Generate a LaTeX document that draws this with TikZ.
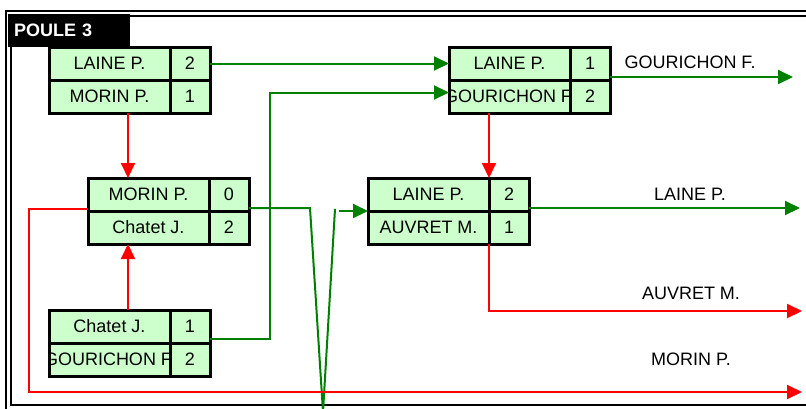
\documentclass[tikz,border=0pt]{standalone}
\usepackage{fontspec}
\setmainfont{Liberation Sans}
\usepackage{tikz}
\usetikzlibrary{arrows.meta,positioning}
\definecolor{cellgreen}{HTML}{CCFFCC}
\definecolor{wingreen}{RGB}{0,128,0}

\begin{document}
\begin{tikzpicture}[x=1pt, y=-1pt, cell/.style={shape=rectangle, draw, fill=cellgreen, line width=3pt, outer sep=0, inner sep=0, minimum height=33pt, font=\fontsize{18}{21}\selectfont}, player/.style={cell, minimum width=121pt}, score/.style={cell, minimum width=40pt}, cutname/.style={player, path picture={\node[font=\fontsize{18}{21}\selectfont, inner sep=0, anchor=center] at (path picture bounding box.center) {#1};}}, result/.style={font=\fontsize{18}{21}\selectfont}, win/.style={draw=wingreen, line width=2pt}, lose/.style={draw=red, line width=2pt}, >={Triangle[length=15pt,width=14pt]}]
				\useasboundingbox (0,0) rectangle (806,408);
				\draw[line width=2pt] (6,11) rectangle (812,412);
				\draw[line width=2pt] (11,16) rectangle (807,405);
				\node[fill=black, text=white, font=\fontsize{18}{21}\selectfont\bfseries, anchor=north west, minimum height=33pt, inner sep=6pt, text width=110pt] (poule) at (8,14) {POULE 3};
				\node[player] (m1j1) at (109.5,63.5) {LAINE P.};
				\node[score, right=0pt of m1j1] (m1s1) {2};
				\node[player, below=0pt of m1j1] (m1j2) {MORIN P.};
				\node[score, right=0pt of m1j2] (m1s2) {1};
				\node[player] (m2j1) at (109.5,326.5) {Chatet J.};
				\node[score, right=0pt of m2j1] (m2s1) {1};
				\node[cutname={GOURICHON F.}, below=0pt of m2j1] (m2j2) {};
				\node[score, right=0pt of m2j2] (m2s2) {2};
				\node[player] (m3j1) at (148.5,194.5) {MORIN P.};
				\node[score, right=0pt of m3j1] (m3s1) {0};
				\node[player, below=0pt of m3j1] (m3j2) {Chatet J.};
				\node[score, right=0pt of m3j2] (m3s2) {2};
				\node[player] (m4j1) at (509.5,63.5) {LAINE P.};
				\node[score, right=0pt of m4j1] (m4s1) {1};
				\node[cutname={GOURICHON F.}, below=0pt of m4j1] (m4j2) {};
				\node[score, right=0pt of m4j2] (m4s2) {2};
				\node[player] (m5j1) at (428.5,194.5) {LAINE P.};
				\node[score, right=0pt of m5j1] (m5s1) {2};
				\node[player, below=0pt of m5j1] (m5j2) {AUVRET M.};
				\node[score, right=0pt of m5j2] (m5s2) {1};
				\node[result] (r1) at (690,62.5) {GOURICHON F.};
				\node[result] (r2) at (690,194) {LAINE P.};
				\node[result] (r3) at (691,293.5) {AUVRET M.};
				\node[result] (r4) at (691,359.5) {MORIN P.};
				\coordinate (out1) at (793,77);
				\coordinate (out2) at (800,208);
				\coordinate (out3) at (802,311);
				\coordinate (out4) at (802,392);
				\coordinate (corner) at (29,392);
				\coordinate (v1) at (310,208);
				\coordinate (v2) at (323,412);
				\coordinate (v3) at (335,209);
				\coordinate (v4) at (339,211);
				\draw[win, ->] (m1s1.east) -- (m4j1.west);
				\draw[win, ->] ([yshift=4pt]m2s1.south east) -- ++(60,0) |- ([yshift=4pt]m4j2.west);
				\draw[win, ->] ([yshift=3pt]m4s1.south east) -- (out1);
				\draw[win, ->] ([yshift=3pt]m5s1.south east) -- (out2);
				\draw[win] ([yshift=3pt]m3s1.south east) -- (v1) -- (v2) -- (v3);
				\draw[win, ->] (v4) -- (m5j1.south west);
				\draw[lose, ->] ([xshift=18.5pt]m1j2.south) -- ([xshift=-20.5pt]m3j1.north);
				\draw[lose, ->] ([xshift=18.5pt]m2j1.north) -- ([xshift=-20.5pt]m3j2.south);
				\draw[lose, ->] (m4j2.south -| m5j1.north east) -- (m5j1.north east);
				\draw[lose, ->] (m5j2.south east) |- (out3);
				\draw[lose, ->] ([yshift=2pt]m3j1.south west) -| (corner) -- (out4);
			\end{tikzpicture}
\end{document}
